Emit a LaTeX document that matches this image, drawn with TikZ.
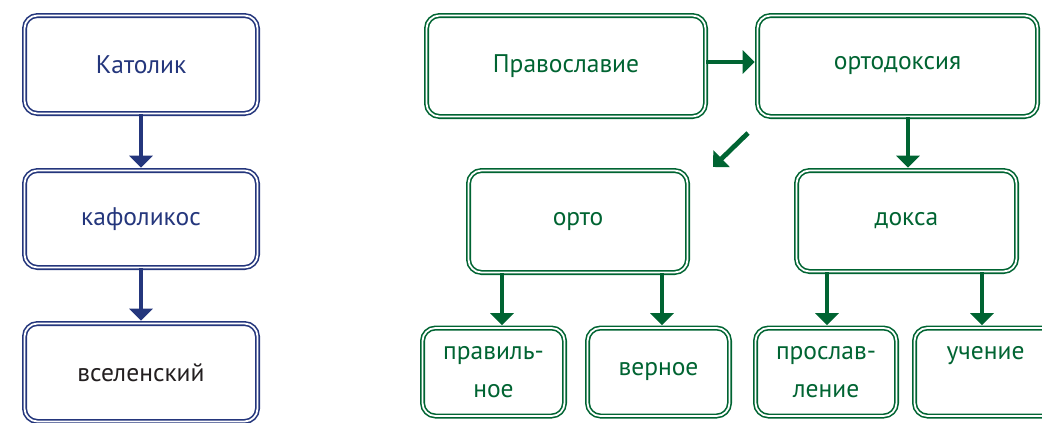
\documentclass[tikz,border=0pt]{standalone}
\usepackage{fontspec}
\setmainfont{PT Sans}
\usetikzlibrary{arrows.meta}
\definecolor{navy}{RGB}{36,54,124}
\definecolor{dgreen}{RGB}{0,100,50}
\definecolor{ink}{RGB}{35,31,32}
\tikzset{
  box/.style={draw=#1, double=white, double distance=1.8pt, line width=1.6pt,
    rounded corners=13pt, fill=white, align=center, inner sep=0pt,
    font=\fontsize{25.5}{38}\selectfont},
  bluebox/.style={box=navy, text=navy},
  greenbox/.style={box=dgreen, text=dgreen},
  arr/.style={draw=#1, line width=4.8pt, -{Triangle[width=23pt,length=12pt]}, shorten >=2pt},
}
\begin{document}
\begin{tikzpicture}[x=1pt,y=-1pt]
\useasboundingbox (0,0) rectangle (1042,423);
\clip (0,0) rectangle (1042,423);
% left column
\node[bluebox, minimum width=233pt, minimum height=98pt] (kat) at (141,64.5) {Католик};
\node[bluebox, minimum width=233pt, minimum height=97pt] (kaf) at (141,219) {кафоликос};
\node[bluebox, text=ink, minimum width=233pt, minimum height=98pt] (vse) at (141,372.5) {вселенский};
\draw[arr=navy] (kat.south) -- (kaf.north);
\draw[arr=navy] (kaf.south) -- (vse.north);
% right part
\node[greenbox, minimum width=279pt, minimum height=101pt] (prav) at (566,66) {Православие};
\node[greenbox, minimum width=280pt, minimum height=101pt] (ortd) at (897.5,66) {ортодоксия};
\node[greenbox, minimum width=219pt, minimum height=102pt] (orto) at (578,221.5) {орто};
\node[greenbox, minimum width=220pt, minimum height=101pt] (doks) at (906.5,221) {докса};
\node[greenbox, minimum width=142pt, minimum height=88pt] (prn) at (493.5,372) {правиль-\\ное};
\node[greenbox, minimum width=142pt, minimum height=88pt] (ver) at (658.5,372) {верное};
\node[greenbox, minimum width=141pt, minimum height=88pt] (pros) at (826,372) {прослав-\\ление};
\node[greenbox, minimum width=142pt, minimum height=88pt] (uch) at (985.5,372) {учение\\\phantom{н}};
% connectors
\coordinate (hy) at (0,62);
\draw[arr=dgreen] (prav.east |- hy) -- (ortd.west |- hy);
\coordinate (dg1) at (748,133);
\coordinate (dg2) at (713,167);
\draw[arr=dgreen, shorten >=0pt] (dg1) -- (dg2);
\coordinate (c1) at (908,0);
\draw[arr=dgreen] (c1 |- ortd.south) -- (c1 |- doks.north);
\coordinate (c2) at (502,0);
\coordinate (c3) at (662,0);
\coordinate (c4) at (827,0);
\coordinate (c5) at (982,0);
\draw[arr=dgreen] (c2 |- orto.south) -- (c2 |- prn.north);
\draw[arr=dgreen] (c3 |- orto.south) -- (c3 |- ver.north);
\draw[arr=dgreen] (c4 |- doks.south) -- (c4 |- pros.north);
\draw[arr=dgreen] (c5 |- doks.south) -- (c5 |- uch.north);
\end{tikzpicture}
\end{document}
